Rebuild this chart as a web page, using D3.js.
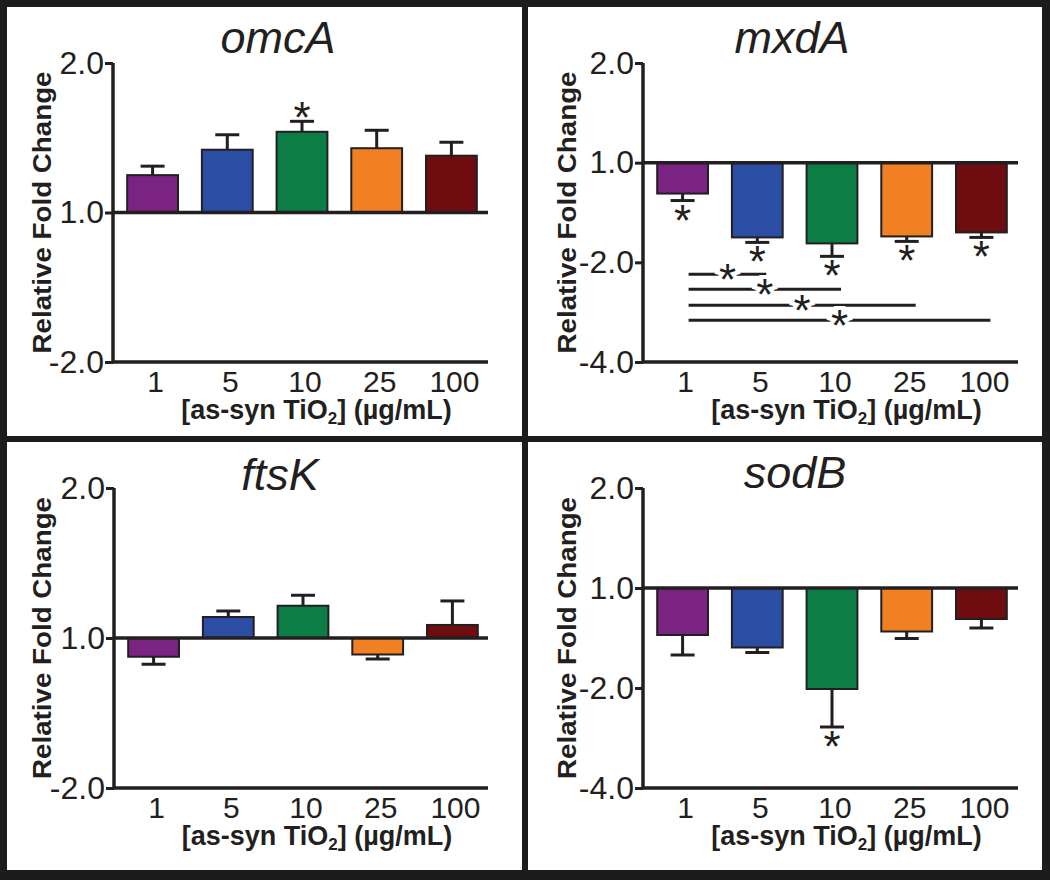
<!DOCTYPE html>
<html>
<head>
<meta charset="utf-8">
<script src="https://cdn.jsdelivr.net/npm/d3@7"></script>
<style>
  html, body { margin: 0; padding: 0; background: #fff; }
  svg { display: block; }
  text { font-family: "Liberation Sans", Arial, sans-serif; fill: #231f20; }
</style>
</head>
<body>
<svg id="chart" width="1050" height="880"></svg>
<script>
// ---------- DATA (values on the log2 axis: 1 = "2.0", 0 = "1.0", -1 = "-2.0", -2 = "-4.0") ----------
const categories = ["1", "5", "10", "25", "100"];
const barColors = ["#7b2382", "#2b4ea4", "#0b7d45", "#f18023", "#6e0c10"];

const omcAMean = [0.25, 0.42, 0.54, 0.43, 0.38];
const omcASem  = [0.06, 0.10, 0.07, 0.12, 0.09];
const omcASig  = [false, false, true, false, false];

const mxdAMean = [-0.31, -0.75, -0.81, -0.74, -0.70];
const mxdASem  = [0.07, 0.05, 0.13, 0.05, 0.05];
const mxdASig  = [true, true, true, true, true];

const ftsKMean = [-0.125, 0.14, 0.215, -0.11, 0.087];
const ftsKSem  = [0.05, 0.04, 0.07, 0.03, 0.16];
const ftsKSig  = [false, false, false, false, false];

const sodBMean = [-0.47, -0.595, -1.01, -0.435, -0.31];
const sodBSem  = [0.20, 0.05, 0.38, 0.07, 0.09];
const sodBSig  = [false, false, true, false, false];

// pairwise comparisons drawn under mxdA (from, to, level on y axis)
const mxdABrackets = [
  { from: "1", to: "5",   level: -1.12 },
  { from: "1", to: "10",  level: -1.27 },
  { from: "1", to: "25",  level: -1.43 },
  { from: "1", to: "100", level: -1.58 }
];

const tickValuesSmall = [1, 0, -1];
const tickLabelsSmall = ["2.0", "1.0", "-2.0"];
const tickValuesLarge = [1, 0, -1, -2];
const tickLabelsLarge = ["2.0", "1.0", "-2.0", "-4.0"];

const yAxisTitle = "Relative Fold Change";

// ---------- LAYOUT ----------
const panels = [
  { title: "omcA", mean: omcAMean, sem: omcASem, sig: omcASig, brackets: [],
    tv: tickValuesSmall, tl: tickLabelsSmall,
    left: 0, axisX: 113, xEnd: 488, yTop: 63, yBot: 362, titleX: 278, titleY: 53 },
  { title: "mxdA", mean: mxdAMean, sem: mxdASem, sig: mxdASig, brackets: mxdABrackets,
    tv: tickValuesLarge, tl: tickLabelsLarge,
    left: 525, axisX: 643, xEnd: 1018, yTop: 63, yBot: 362, titleX: 792, titleY: 53 },
  { title: "ftsK", mean: ftsKMean, sem: ftsKSem, sig: ftsKSig, brackets: [],
    tv: tickValuesSmall, tl: tickLabelsSmall,
    left: 0, axisX: 114, xEnd: 488, yTop: 488, yBot: 788, titleX: 280, titleY: 490 },
  { title: "sodB", mean: sodBMean, sem: sodBSem, sig: sodBSig, brackets: [],
    tv: tickValuesLarge, tl: tickLabelsLarge,
    left: 525, axisX: 643, xEnd: 1018, yTop: 488, yBot: 788, titleX: 795, titleY: 488 }
];

const ink = "#231f20";
const starSize = 44, starShift = 21;
const svg = d3.select("#chart");

// frame
const frame = svg.append("g");
[[0, 0, 1050, 7], [0, 870, 1050, 10], [0, 0, 7, 880], [1042, 0, 8, 880],
 [522, 0, 6, 880], [0, 436, 1050, 6]].forEach(r => {
  frame.append("rect").attr("x", r[0]).attr("y", r[1]).attr("width", r[2]).attr("height", r[3]).attr("fill", "#1c1c1c");
});

panels.forEach(p => {
  const g = svg.append("g");
  const x = d3.scaleBand().domain(categories)
    .range([p.axisX, p.axisX + 378]).paddingInner(0.32).paddingOuter(0.19);
  const y = d3.scaleLinear().domain([p.tv[p.tv.length - 1], p.tv[0]]).range([p.yBot, p.yTop]);
  const bw = x.bandwidth();

  const rows = categories.map((c, i) => ({ c, i, m: p.mean[i], s: p.sem[i], sig: p.sig[i] }));

  // title
  g.append("text").attr("x", p.titleX).attr("y", p.titleY)
    .attr("text-anchor", "middle").attr("font-style", "italic")
    .attr("font-size", 45).text(p.title);

  // y axis title
  const ycx = p.left + 42, ycy = (p.yTop + p.yBot) / 2;
  g.append("text").attr("transform", `translate(${ycx},${ycy}) rotate(-90)`)
    .attr("text-anchor", "middle").attr("dy", "0.35em")
    .attr("font-weight", "bold").attr("font-size", 26)
    .attr("textLength", 282).attr("lengthAdjust", "spacingAndGlyphs")
    .text(yAxisTitle);

  // x axis title
  const xt = g.append("text").attr("x", (p.axisX + p.xEnd) / 2 + 16).attr("y", p.yBot + 57)
    .attr("text-anchor", "middle").attr("font-weight", "bold").attr("font-size", 27);
  xt.append("tspan").text("[as-syn TiO");
  xt.append("tspan").attr("font-size", 17).attr("dy", 5).text("2");
  xt.append("tspan").attr("dy", -5).text("] (\u00b5g/mL)");

  // bars
  g.selectAll("rect.bar").data(rows).enter().append("rect")
    .attr("class", "bar")
    .attr("x", d => x(d.c))
    .attr("width", bw)
    .attr("y", d => y(Math.max(0, d.m)))
    .attr("height", d => Math.abs(y(d.m) - y(0)))
    .attr("fill", (d) => barColors[d.i])
    .attr("stroke", ink).attr("stroke-width", 2);

  // error bars (one-sided, away from baseline)
  const errEnd = d => d.m >= 0 ? d.m + d.s : d.m - d.s;
  g.selectAll("line.err").data(rows).enter().append("line")
    .attr("x1", d => x(d.c) + bw / 2).attr("x2", d => x(d.c) + bw / 2)
    .attr("y1", d => y(d.m)).attr("y2", d => y(errEnd(d)))
    .attr("stroke", ink).attr("stroke-width", 3);
  g.selectAll("line.cap").data(rows).enter().append("line")
    .attr("x1", d => x(d.c) + bw / 2 - 12).attr("x2", d => x(d.c) + bw / 2 + 12)
    .attr("y1", d => y(errEnd(d))).attr("y2", d => y(errEnd(d)))
    .attr("stroke", ink).attr("stroke-width", 3);

  // significance asterisks
  g.selectAll("text.sig").data(rows.filter(d => d.sig)).enter().append("text")
    .attr("x", d => x(d.c) + bw / 2)
    .attr("y", d => d.m >= 0 ? y(errEnd(d)) - 9 + starShift : y(errEnd(d)) + 14 + starShift)
    .attr("text-anchor", "middle").attr("font-size", starSize).text("*");

  // brackets
  p.brackets.forEach(b => {
    const xa = x(b.from) + bw / 2 + 6, xb = x(b.to) + bw / 2 + 9;
    g.append("line").attr("x1", xa).attr("x2", xb)
      .attr("y1", y(b.level)).attr("y2", y(b.level))
      .attr("stroke", ink).attr("stroke-width", 3);
    g.append("text").attr("x", (xa + xb) / 2).attr("y", y(b.level) + starShift)
      .attr("text-anchor", "middle").attr("font-size", starSize)
      .attr("stroke", "#fff").attr("stroke-width", 8).attr("paint-order", "stroke")
      .text("*");
  });

  // baseline at fold change 1.0
  g.append("line").attr("x1", p.axisX).attr("x2", p.xEnd)
    .attr("y1", y(0)).attr("y2", y(0)).attr("stroke", ink).attr("stroke-width", 3.5);
  // bottom axis line
  g.append("line").attr("x1", p.axisX).attr("x2", p.xEnd)
    .attr("y1", p.yBot).attr("y2", p.yBot).attr("stroke", ink).attr("stroke-width", 3.5);

  // y axis
  const yAxis = d3.axisLeft(y).tickValues(p.tv)
    .tickFormat((d, i) => p.tl[i]).tickSize(8).tickPadding(1);
  const ya = g.append("g").attr("transform", `translate(${p.axisX},0)`).call(yAxis);
  ya.select(".domain").attr("stroke", ink).attr("stroke-width", 3.5).attr("d", `M0,${p.yTop}V${p.yBot}`);
  ya.selectAll(".tick line").attr("stroke", ink).attr("stroke-width", 3);
  ya.selectAll(".tick text").attr("font-size", 32).attr("fill", ink)
    .attr("font-family", "Liberation Sans, Arial, sans-serif");

  // x axis labels
  const xAxis = d3.axisBottom(x).tickSize(0).tickPadding(0);
  const xa = g.append("g").attr("transform", `translate(3,${p.yBot})`).call(xAxis);
  xa.select(".domain").remove();
  xa.selectAll(".tick text").attr("font-size", 30).attr("fill", ink)
    .attr("dy", null).attr("y", 30)
    .attr("font-family", "Liberation Sans, Arial, sans-serif");
});
</script>
</body>
</html>
